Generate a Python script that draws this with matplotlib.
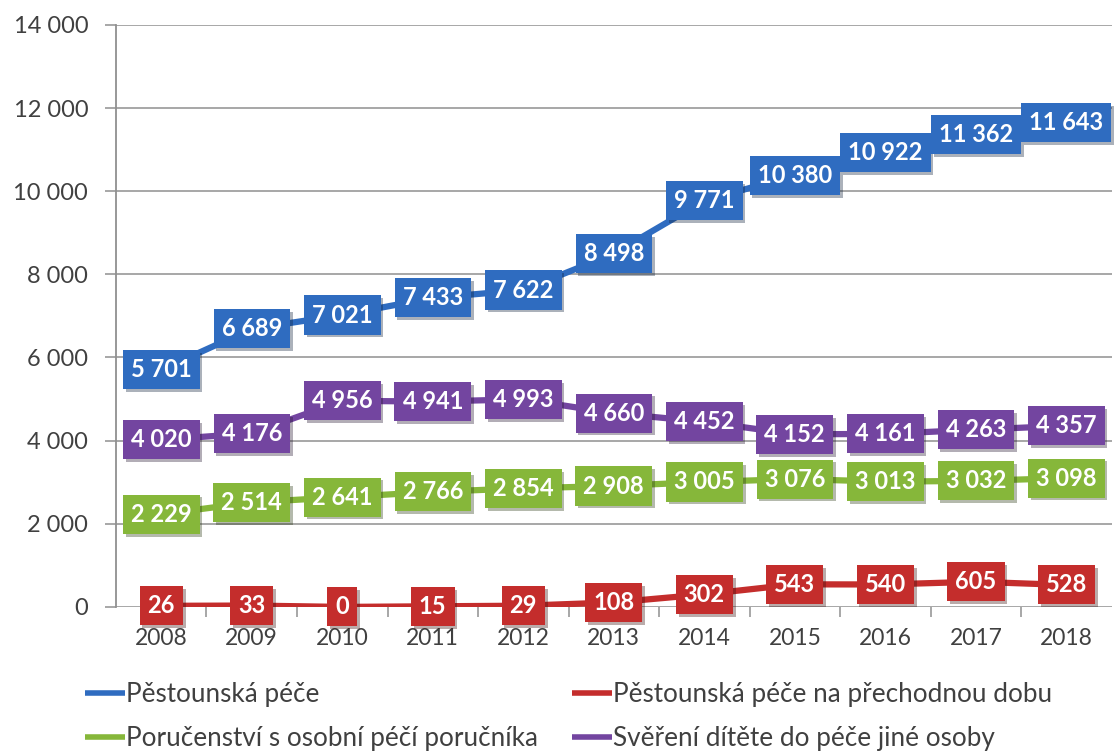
import matplotlib
matplotlib.use("Agg")
import matplotlib.pyplot as plt
import matplotlib.patheffects as pe

years = ["2008", "2009", "2010", "2011", "2012", "2013", "2014", "2015", "2016", "2017", "2018"]
pestounska = [5701, 6689, 7021, 7433, 7622, 8498, 9771, 10380, 10922, 11362, 11643]
prechodna = [26, 33, 0, 15, 29, 108, 302, 543, 540, 605, 528]
porucenstvi = [2229, 2514, 2641, 2766, 2854, 2908, 3005, 3076, 3013, 3032, 3098]
sverreni = [4020, 4176, 4956, 4941, 4993, 4660, 4452, 4152, 4161, 4263, 4357]
yticks = [0, 2000, 4000, 6000, 8000, 10000, 12000, 14000]

names = ["Pěstounská péče", "Pěstounská péče na přechodnou dobu",
         "Poručenství s osobní péčí poručníka", "Svěření dítěte do péče jiné osoby"]
colors = ["#2F6CC0", "#C42D2C", "#86B73A", "#7345A0"]
series = [pestounska, prechodna, porucenstvi, sverreni]

plt.rcParams['font.family'] = ['Lato', 'DejaVu Sans']

fig = plt.figure(figsize=(11.15, 7.53), dpi=100)
ax = fig.add_axes([0.104, 0.194, 0.893, 0.773])

x = list(range(len(years)))
handles = []
for vals, c, n in zip(series, colors, names):
    ln, = ax.plot(x, vals, color=c, lw=4.5, solid_capstyle='butt', zorder=3, label=n)
    handles.append(ln)
    for xi, v in zip(x, vals):
        t = ax.text(xi, v, f"{v:,}".replace(",", " "), ha='center', va='center',
                    color='white', fontsize=17, fontweight='bold', zorder=5,
                    clip_on=False,
                    bbox=dict(boxstyle='square,pad=0.34', fc=c, ec='none'))
        t.get_bbox_patch().set_path_effects(
            [pe.SimplePatchShadow(offset=(2, -2), alpha=0.35), pe.Normal()])

ax.set_xlim(-0.5, len(years) - 0.5)
ax.set_ylim(0, 14000)
ax.set_yticks(yticks)
ax.set_yticklabels([f"{v:,}".replace(",", " ") for v in yticks])
ax.set_xticks(x)
ax.set_xticklabels(years)
ax.set_xticks([i + 0.5 for i in range(len(years) - 1)], minor=True)

ax.grid(axis='y', color='#A0A0A0', lw=1.3, zorder=0)
for s in ['top', 'right', 'bottom']:
    ax.spines[s].set_visible(False)
ax.spines['left'].set_color('#909090')
ax.spines['left'].set_linewidth(1.3)

ax.tick_params(axis='y', length=8, width=1.3, color='#A0A0A0', pad=12,
               labelsize=17, labelcolor='#404040')
ax.tick_params(axis='x', which='major', length=0, pad=15,
               labelsize=16.5, labelcolor='#404040')
ax.tick_params(axis='x', which='minor', length=7, width=1.3, color='#A0A0A0')

order = [0, 2, 1, 3]
leg = fig.legend([handles[i] for i in order], [names[i] for i in order],
                 loc='upper left', bbox_to_anchor=(0.0762, 0.0944), ncol=2,
                 frameon=False, fontsize=18.8, handlelength=1.53,
                 handletextpad=0.05, columnspacing=1.3, labelspacing=0.74,
                 borderaxespad=0, borderpad=0)
for t in leg.get_texts():
    t.set_color('#404040')
for h in leg.legend_handles:
    h.set_linewidth(4)

fig.savefig("out.png", dpi=100)
